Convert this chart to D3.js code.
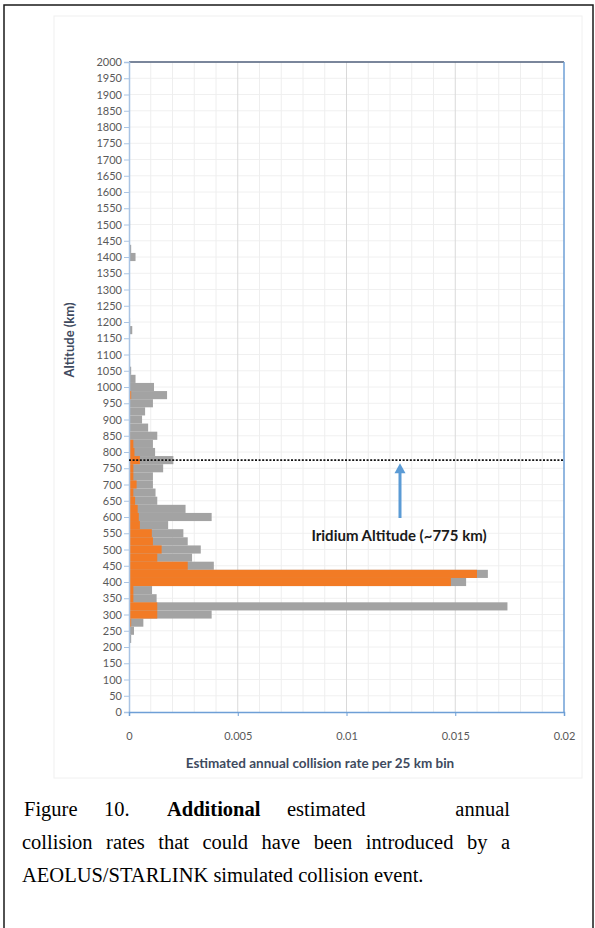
<!DOCTYPE html>
<html>
<head>
<meta charset="utf-8">
<script src="https://cdn.jsdelivr.net/npm/d3@7"></script>
<style>
  html, body { margin: 0; padding: 0; background: #fff; }
  svg { display: block; }
</style>
</head>
<body>
<svg id="fig" width="595" height="928"></svg>
<script>
// Altitude bins (km, bin centre of each 25 km bin) and annual collision rates
const altitudes = [1500, 1425, 1400, 1200, 1175, 1125, 1100, 1075, 1050, 1025,
  1000, 975, 950, 925, 900, 875, 850, 825, 800, 775, 750, 725, 700, 675, 650,
  625, 600, 575, 550, 525, 500, 475, 450, 425, 400, 375, 350, 325, 300, 275, 250, 225];
// Total additional rate per bin (grey)
const totalRate = [0.00005, 0.0001, 0.0003, 0.00005, 0.00015, 0.00003, 0.00003, 0.00005, 0.0001, 0.0003,
  0.00115, 0.00175, 0.0011, 0.00074, 0.0006, 0.00088, 0.0013, 0.0011, 0.0012, 0.00204, 0.00157, 0.0011, 0.0011, 0.00122, 0.0013,
  0.0026, 0.0038, 0.0018, 0.0025, 0.0027, 0.0033, 0.0029, 0.0039, 0.0165, 0.0155, 0.00106, 0.00127, 0.0174, 0.0038, 0.00066, 0.00023, 0.0001];
// Portion of the rate shown in orange
const orangeRate = [0, 0, 0, 0, 0, 0, 0, 0, 0, 0,
  0, 0.0001, 0, 0, 0, 0, 0.00005, 0.0002, 0.00025, 0.0005, 0.0002, 0.0002, 0.00035, 0.0002, 0.00028,
  0.0004, 0.00045, 0.0005, 0.00105, 0.0011, 0.0015, 0.0013, 0.0027, 0.0160, 0.0148, 0.0002, 0.0002, 0.0013, 0.0013, 0.0001, 0, 0];

const xTicks = [0, 0.005, 0.01, 0.015, 0.02];
const xTickLabels = ["0", "0.005", "0.01", "0.015", "0.02"];
const yTicks = d3.range(0, 2001, 50);
const iridiumAltitude = 775;

const binWidth = 25;
const rows = altitudes.map((a, i) => ({ alt: a, total: totalRate[i], orange: orangeRate[i] }));

const svg = d3.select("#fig");
const font = "Lato, 'Open Sans', sans-serif";

// Page frame
svg.append("rect").attr("x", 4).attr("y", 5).attr("width", 589).attr("height", 960)
  .attr("fill", "none").attr("stroke", "#1a1a1a").attr("stroke-width", 1.5);

// Light frame around the chart graphic
svg.append("rect").attr("x", 54).attr("y", 16).attr("width", 528).attr("height", 762)
  .attr("fill", "#fff").attr("stroke", "#f0f0f0").attr("stroke-width", 1);

const x = d3.scaleLinear().domain([0, 0.02]).range([129, 564]);
const y = d3.scaleLinear().domain([0, 2000]).range([712, 62]);

// Grid
const grid = svg.append("g");
grid.selectAll("line.hmin").data(yTicks.slice(1)).join("line")
  .attr("x1", x(0)).attr("x2", x(0.02))
  .attr("y1", d => y(d)).attr("y2", d => y(d))
  .attr("stroke", "#f0f0f0").attr("stroke-width", 1);
grid.selectAll("line.vmin").data(d3.range(1, 20).map(i => i * 0.001)).join("line")
  .attr("x1", d => x(d)).attr("x2", d => x(d))
  .attr("y1", y(0)).attr("y2", y(2000))
  .attr("stroke", d => (Math.round(d * 1000) % 5 === 0) ? "#d9d9d9" : "#eeeeee")
  .attr("stroke-width", 1);

// Bars: grey totals with orange portion on top
const bars = svg.append("g");
bars.selectAll("rect.total").data(rows.filter(d => d.total > 0)).join("rect")
  .attr("x", x(0))
  .attr("y", d => y(d.alt + binWidth / 2))
  .attr("width", d => x(d.total) - x(0))
  .attr("height", d => y(d.alt - binWidth / 2) - y(d.alt + binWidth / 2))
  .attr("fill", "#a3a3a3");
bars.selectAll("rect.orange").data(rows.filter(d => d.orange > 0)).join("rect")
  .attr("x", x(0))
  .attr("y", d => y(d.alt + binWidth / 2))
  .attr("width", d => x(d.orange) - x(0))
  .attr("height", d => y(d.alt - binWidth / 2) - y(d.alt + binWidth / 2))
  .attr("fill", "#f27b25");

// Plot border
svg.append("line").attr("x1", x(0)).attr("x2", x(0.02)).attr("y1", y(2000)).attr("y2", y(2000))
  .attr("stroke", "#51607c").attr("stroke-width", 1.5);
svg.append("line").attr("x1", x(0.02)).attr("x2", x(0.02)).attr("y1", y(2000)).attr("y2", y(0))
  .attr("stroke", "#6e9fd6").attr("stroke-width", 1.5);

// Y axis
const yAxis = svg.append("g").attr("transform", `translate(${x(0)},0)`)
  .call(d3.axisLeft(y).tickValues(yTicks).tickSize(5).tickPadding(2).tickFormat(d3.format("d")));
yAxis.select(".domain").attr("stroke", "#a9c4e4").attr("stroke-width", 1.5);
yAxis.selectAll(".tick line").attr("stroke", "#a9c4e4");
yAxis.selectAll(".tick text").attr("fill", "#595959").attr("font-family", font).attr("font-size", 11);

// X axis
const xAxis = svg.append("g").attr("transform", `translate(0,${y(0)})`)
  .call(d3.axisBottom(x).tickValues(xTicks).tickSize(4).tickPadding(16)
    .tickFormat((d, i) => xTickLabels[i]));
xAxis.select(".domain").attr("stroke", "#6e9fd6").attr("stroke-width", 1.5);
xAxis.selectAll(".tick line").attr("stroke", "#6e9fd6");
xAxis.selectAll(".tick text").attr("fill", "#595959").attr("font-family", font).attr("font-size", 11);

// Axis titles
svg.append("text").attr("x", 320).attr("y", 768).attr("text-anchor", "middle")
  .attr("font-family", font).attr("font-size", 13.5).attr("font-weight", "bold").attr("fill", "#3e4a5e")
  .text("Estimated annual collision rate per 25 km bin");
svg.append("text").attr("transform", "translate(74,340) rotate(-90)").attr("text-anchor", "middle")
  .attr("font-family", font).attr("font-size", 13).attr("font-weight", "bold").attr("fill", "#3e4a5e")
  .text("Altitude (km)");

// Iridium altitude reference line
svg.append("line").attr("x1", x(0)).attr("x2", x(0.02))
  .attr("y1", y(iridiumAltitude)).attr("y2", y(iridiumAltitude))
  .attr("stroke", "#111").attr("stroke-width", 1.6).attr("stroke-dasharray", "2,1.6");

// Arrow pointing at the line
const ax = 400;
const arrowTip = y(iridiumAltitude) + 3;
svg.append("line").attr("x1", ax).attr("x2", ax).attr("y1", 518).attr("y2", arrowTip + 9)
  .attr("stroke", "#5b9bd5").attr("stroke-width", 3);
svg.append("path")
  .attr("d", `M${ax},${arrowTip} L${ax - 5.5},${arrowTip + 10} L${ax + 5.5},${arrowTip + 10} Z`)
  .attr("fill", "#5b9bd5");

svg.append("text").attr("x", 399).attr("y", 541).attr("text-anchor", "middle")
  .attr("font-family", font).attr("font-size", 15).attr("font-weight", "bold").attr("fill", "#1a1a1a")
  .text("Iridium Altitude (~775 km)");

// Caption
const cap = svg.append("g").attr("font-family", "'Liberation Serif', 'Times New Roman', serif")
  .attr("font-size", 20.5).attr("fill", "#000");
const line1 = [
  { t: "Figure", x: 24, a: "start" },
  { t: "10.", x: 104, a: "start" },
  { t: "Additional", x: 167, a: "start", b: true },
  { t: "estimated", x: 287, a: "start" },
  { t: "annual", x: 510, a: "end" }
];
line1.forEach(w => cap.append("text").attr("x", w.x).attr("y", 816).attr("text-anchor", w.a)
  .attr("font-weight", w.b ? "bold" : "normal").text(w.t));

// Justified second line
const words2 = "collision rates that could have been introduced by a".split(" ");
const l2 = cap.append("g");
const nodes = words2.map(w => l2.append("text").attr("y", 849).text(w));
const widths = nodes.map(n => n.node().getComputedTextLength());
const left = 22, right = 510;
const gap = (right - left - d3.sum(widths)) / (words2.length - 1);
let cx = left;
nodes.forEach((n, i) => { n.attr("x", cx); cx += widths[i] + gap; });

cap.append("text").attr("x", 22).attr("y", 882).text("AEOLUS/STARLINK simulated collision event.");
</script>
</body>
</html>
